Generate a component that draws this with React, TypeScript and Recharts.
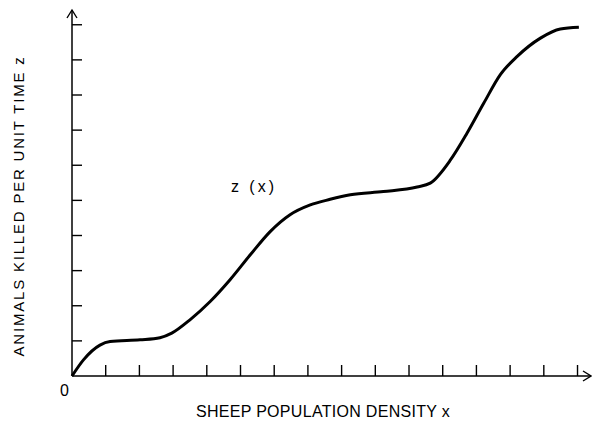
import { LineChart, Line, XAxis, YAxis, ReferenceDot, Label } from 'recharts';

// sheep population density (x) and animals killed per unit time (z)
const density = [0, 0.34, 0.83, 1.13, 2.02, 2.61, 2.96, 3.5, 4.1, 4.69, 5.29, 5.88, 6.47, 7.07, 7.66, 8.26, 9.24, 10.24, 10.63, 11.23, 11.72, 12.22, 12.71, 13.21, 13.9, 14.49, 15.04];
const killed = [0, 0.46, 0.88, 0.98, 1.03, 1.09, 1.22, 1.6, 2.12, 2.74, 3.45, 4.11, 4.59, 4.87, 5.03, 5.16, 5.25, 5.38, 5.49, 6.15, 6.91, 7.77, 8.58, 9.1, 9.62, 9.88, 9.93];
const xTicks = [1, 2, 3, 4, 5, 6, 7, 8, 9, 10, 11, 12, 13, 14, 15];
const yTicks = [1, 2, 3, 4, 5, 6, 7, 8, 9, 10];
const xMax = 15.4;
const yMax = 10.42;

const data = density.map((x, i) => ({ x, z: killed[i] }));

const font = '"Liberation Sans", Arial, sans-serif';
const noLabel = () => '';

const ArrowRight = (p: any) => (
  <path d={`M${p.cx - 8},${p.cy - 5} L${p.cx},${p.cy} L${p.cx - 8},${p.cy + 5}`} fill="none" stroke="#000" strokeWidth={1.4} />
);
const ArrowUp = (p: any) => (
  <path d={`M${p.cx - 5},${p.cy + 8} L${p.cx},${p.cy} L${p.cx + 5},${p.cy + 8}`} fill="none" stroke="#000" strokeWidth={1.4} />
);

export default function App() {
  return (
    <div style={{ position: 'fixed', top: 0, left: 0, width: 592, height: 429, background: '#fff' }}>
      <LineChart width={592} height={429} data={data} margin={{ top: 10, right: 1, bottom: 53, left: 72 }}>
        <XAxis
          type="number"
          dataKey="x"
          domain={[0, xMax]}
          ticks={xTicks}
          tick={{ fill: 'none', fontSize: 1 }}
          tickFormatter={noLabel}
          mirror
          tickSize={11}
          axisLine={{ stroke: '#000', strokeWidth: 1.5 }}
          tickLine={{ stroke: '#000', strokeWidth: 1.4 }}
        >
          <Label
            content={() => (
              <g fontFamily={font} fill="#000">
                <text x={323} y={417} textAnchor="middle" fontSize={16} letterSpacing={0.3}>SHEEP POPULATION DENSITY x</text>
                <text x={64.5} y={396} textAnchor="middle" fontSize={16}>0</text>
              </g>
            )}
          />
        </XAxis>
        <YAxis
          type="number"
          domain={[0, yMax]}
          ticks={yTicks}
          tick={{ fill: 'none', fontSize: 1 }}
          tickFormatter={noLabel}
          mirror
          tickSize={10}
          axisLine={{ stroke: '#000', strokeWidth: 1.5 }}
          tickLine={{ stroke: '#000', strokeWidth: 1.4 }}
        >
          <Label
            content={() => (
              <text
                x={18}
                y={206}
                transform="rotate(-90 18 206)"
                textAnchor="middle"
                dominantBaseline="central"
                fontFamily={font}
                fontSize={15}
                letterSpacing={1.8}
                fill="#000"
              >
                ANIMALS KILLED PER UNIT TIME z
              </text>
            )}
          />
        </YAxis>
        <Line type="monotone" dataKey="z" stroke="#000" strokeWidth={3} dot={false} isAnimationActive={false} />
        <ReferenceDot x={xMax} y={0} r={0} shape={ArrowRight} />
        <ReferenceDot x={0} y={yMax} r={0} shape={ArrowUp} />
        <ReferenceDot x={5.4} y={5.41} r={0} fill="none" stroke="none">
          <Label value="z (x)" position="center" fontFamily={font} fontSize={16} fill="#000" letterSpacing={3} />
        </ReferenceDot>
      </LineChart>
    </div>
  );
}
